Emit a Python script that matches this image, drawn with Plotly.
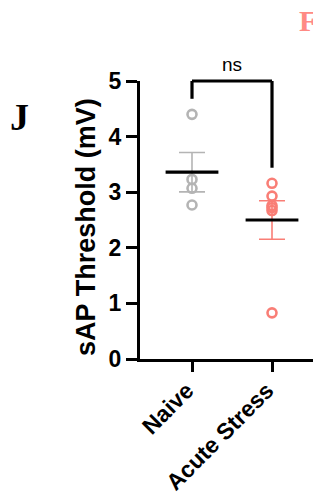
import plotly.graph_objects as go

# ---- data ----
groups = ["Naive", "Acute Stress"]
naive_vals = [4.40, 3.23, 3.07, 2.77]
stress_vals = [3.16, 2.93, 2.76, 2.72, 2.67, 0.83]
group_means = [3.36, 2.50]
group_sems = [0.355, 0.345]
y_ticks = [0, 1, 2, 3, 4, 5]
sig_label = "ns"
bracket_top = 5.0
bracket_left_end = 4.68
bracket_right_end = 3.44

colors = ["#b4b4b4", "#f97e76"]
FONT = "Arial, Liberation Sans, Helvetica, sans-serif"
Y_MAX = 5.0

fig = go.Figure()

all_vals = [naive_vals, stress_vals]
for i, vals in enumerate(all_vals):
    # individual points
    fig.add_trace(go.Scatter(
        x=[i] * len(vals), y=vals, mode="markers",
        marker=dict(symbol="circle-open", size=9, color=colors[i],
                    line=dict(width=2.6, color=colors[i])),
        showlegend=False, cliponaxis=False, hoverinfo="y"))
    # SEM error bar
    fig.add_trace(go.Scatter(
        x=[i], y=[group_means[i]], mode="markers",
        marker=dict(size=0.1, color="rgba(0,0,0,0)"),
        error_y=dict(type="data", array=[group_sems[i]], visible=True,
                     color=colors[i], thickness=1.6, width=13),
        showlegend=False, hoverinfo="skip"))
    # mean line
    fig.add_trace(go.Scatter(
        x=[i - 0.33, i + 0.33], y=[group_means[i]] * 2, mode="lines",
        line=dict(color="black", width=3.2),
        showlegend=False, hoverinfo="skip"))

# significance bracket (paper y so it is not clipped at the top)
def py(v):
    return v / Y_MAX

bk = dict(color="black", width=3.2)
fig.add_shape(type="line", xref="x", yref="paper", x0=0, x1=1,
              y0=py(bracket_top), y1=py(bracket_top), line=bk)
fig.add_shape(type="line", xref="x", yref="paper", x0=0, x1=0,
              y0=py(bracket_top), y1=py(bracket_left_end), line=bk)
fig.add_shape(type="line", xref="x", yref="paper", x0=1, x1=1,
              y0=py(bracket_top), y1=py(bracket_right_end), line=bk)
fig.add_annotation(x=0.5, xref="x", y=py(bracket_top), yref="paper",
                   text=sig_label, showarrow=False, yanchor="bottom", yshift=4,
                   font=dict(family=FONT, size=19, color="black"))

# y-axis title
fig.add_annotation(x=-0.286, xref="paper", y=0.475, yref="paper",
                   text="sAP Threshold (mV)", textangle=-90, showarrow=False,
                   xanchor="center", yanchor="middle",
                   font=dict(family=FONT, size=27, color="black", weight="bold"))

# panel letters
fig.add_annotation(x=-0.640, xref="paper", y=0.87, yref="paper", text="J",
                   showarrow=False, xanchor="center", yanchor="middle",
                   font=dict(family="Liberation Serif, Times New Roman, serif",
                             size=38, color="black", weight="bold"))
fig.add_annotation(x=0.945, xref="paper", y=1.219, yref="paper", text="F",
                   showarrow=False, xanchor="right", yanchor="middle",
                   font=dict(family="Liberation Serif, Times New Roman, serif",
                             size=30, color="#ff8a84", weight="bold"))

# page is shown with an 8px body margin, so the plot is laid out 8px up/left
fig.update_layout(
    width=321, height=498,
    margin=dict(l=132, r=0, t=73, b=147),
    paper_bgcolor="white", plot_bgcolor="white",
    showlegend=False,
    xaxis=dict(range=[-0.65, 1.7125], tickvals=[0, 1], ticktext=groups,
               tickangle=-45, ticks="outside", ticklen=10, tickwidth=3,
               tickcolor="black", showline=True, linecolor="black", linewidth=3,
               showgrid=False, zeroline=False,
               ticklabelshift=-5, ticklabelstandoff=-4,
               tickfont=dict(family=FONT, size=23, color="black", weight="bold")),
    yaxis=dict(range=[0, Y_MAX], tickvals=y_ticks, ticks="outside", ticklen=11,
               tickwidth=3, tickcolor="black", showline=True, linecolor="black",
               linewidth=3, showgrid=False, zeroline=False,
               tickfont=dict(family=FONT, size=23, color="black", weight="bold")),
)

fig.write_html("out.html")
